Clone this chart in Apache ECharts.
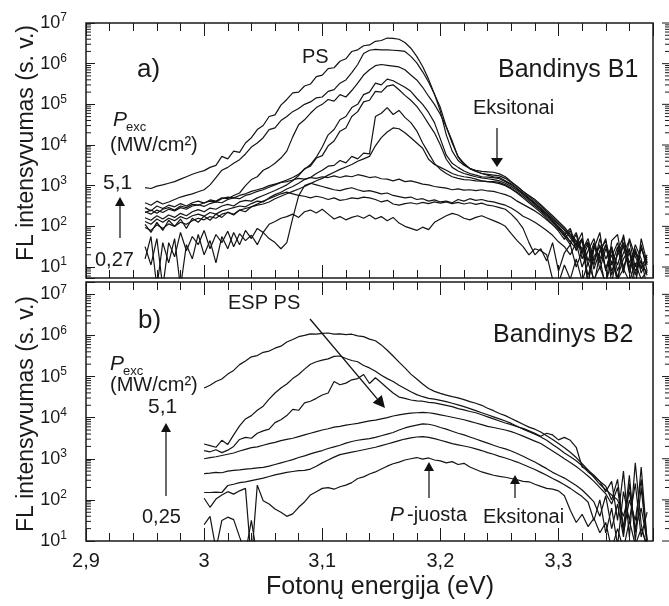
<!DOCTYPE html>
<html><head><meta charset="utf-8">
<script src="https://cdn.jsdelivr.net/npm/echarts@6/dist/echarts.min.js"></script>
<style>html,body{margin:0;padding:0;background:#fff}#c{width:669px;height:606px}</style>
</head><body><div id="c"></div>
<script>
// ---- sampling energies (eV) ----
const energyA = [2.95,2.955,2.96,2.965,2.97,2.975,2.98,2.985,2.99,2.995,3.0,3.005,3.01,3.015,3.02,3.025,3.03,3.035,3.04,3.045,3.05,3.055,3.06,3.065,3.07,3.075,3.08,3.085,3.09,3.095,3.1,3.105,3.11,3.115,3.12,3.125,3.13,3.135,3.14,3.145,3.15,3.155,3.16,3.165,3.17,3.175,3.18,3.185,3.19,3.195,3.2,3.205,3.21,3.215,3.22,3.225,3.23,3.235,3.24,3.245,3.25,3.255,3.26,3.265,3.27,3.275,3.28,3.285,3.29,3.295,3.3,3.305,3.31,3.315,3.32,3.325,3.33,3.335,3.34,3.345,3.35,3.355,3.36,3.365,3.37,3.375];
const energyB = [3.0,3.005,3.01,3.015,3.02,3.025,3.03,3.035,3.04,3.045,3.05,3.055,3.06,3.065,3.07,3.075,3.08,3.085,3.09,3.095,3.1,3.105,3.11,3.115,3.12,3.125,3.13,3.135,3.14,3.145,3.15,3.155,3.16,3.165,3.17,3.175,3.18,3.185,3.19,3.195,3.2,3.205,3.21,3.215,3.22,3.225,3.23,3.235,3.24,3.245,3.25,3.255,3.26,3.265,3.27,3.275,3.28,3.285,3.29,3.295,3.3,3.305,3.31,3.315,3.32,3.325,3.33,3.335,3.34,3.345,3.35,3.355,3.36,3.365,3.37,3.375];

// ---- panel a (Bandinys B1): log10 of FL intensity ----
const a1 = [2.95,2.93,2.99,3.02,3.06,3.10,3.16,3.22,3.28,3.33,3.37,3.45,3.50,3.72,3.66,3.85,3.82,4.05,4.18,4.38,4.48,4.70,4.74,4.98,5.12,5.28,5.30,5.45,5.50,5.68,5.72,5.88,5.90,6.06,6.12,6.30,6.34,6.44,6.46,6.55,6.57,6.63,6.62,6.60,6.52,6.38,6.18,5.93,5.62,5.25,4.83,4.25,3.85,3.62,3.50,3.42,3.38,3.35,3.34,3.33,3.29,3.22,3.10,2.98,2.86,2.76,2.66,2.53,2.40,2.26,2.12,1.98,1.80,1.65,1.45,1.62,0.55,1.35,1.70,0.60,1.40,1.75,1.00,0.50,1.55,0.90];
const a2 = [2.58,2.52,2.62,2.55,2.60,2.66,2.72,2.76,2.80,2.85,2.90,3.02,3.20,3.38,3.45,3.55,3.64,3.78,3.95,4.05,4.18,4.38,4.42,4.60,4.70,4.82,4.90,5.00,5.06,5.16,5.18,5.32,5.36,5.52,5.60,5.78,5.98,6.25,6.33,6.35,6.34,6.34,6.33,6.32,6.30,6.18,6.02,5.80,5.55,5.25,4.92,4.45,4.05,3.72,3.55,3.42,3.35,3.30,3.28,3.26,3.24,3.18,3.08,2.98,2.86,2.74,2.62,2.50,2.36,2.22,2.08,1.94,1.76,1.62,1.40,1.70,1.15,1.55,0.95,1.40,1.05,1.55,0.85,1.35,1.00,1.25];
const a3 = [2.46,2.38,2.50,2.44,2.52,2.48,2.56,2.50,2.58,2.62,2.57,2.65,2.62,2.70,2.68,2.76,2.82,3.00,3.15,3.22,3.38,3.45,3.55,3.68,3.85,4.20,4.50,4.62,4.78,4.92,5.00,5.12,5.08,5.24,5.18,5.34,5.52,5.72,5.85,5.95,5.98,5.96,5.94,5.92,5.85,5.72,5.60,5.42,5.20,5.00,4.75,4.45,4.10,3.70,3.52,3.42,3.36,3.30,3.26,3.22,3.20,3.12,3.04,2.93,2.82,2.70,2.58,2.45,2.32,2.18,2.05,1.90,1.72,1.55,1.85,0.60,1.55,1.20,0.50,1.65,1.80,0.95,1.45,0.55,1.70,1.10];
const a4 = [2.36,2.30,2.40,2.34,2.42,2.38,2.46,2.42,2.50,2.53,2.49,2.56,2.60,2.58,2.66,2.70,2.68,2.76,2.80,2.86,2.90,2.96,3.02,3.08,3.14,3.20,3.28,3.40,3.52,3.70,3.95,4.25,4.38,4.62,4.70,4.92,5.00,5.24,5.30,5.52,5.48,5.62,5.58,5.50,5.42,5.32,5.15,5.00,4.80,4.55,4.15,3.75,3.55,3.45,3.36,3.30,3.26,3.22,3.21,3.20,3.17,3.10,3.02,2.92,2.80,2.68,2.56,2.43,2.30,2.15,2.00,1.84,1.62,1.85,1.35,1.60,1.05,1.70,1.20,1.50,0.90,1.35,1.65,1.00,1.45,1.10];
const a5 = [2.21,2.15,2.26,2.18,2.28,2.22,2.32,2.26,2.36,2.41,2.36,2.45,2.42,2.50,2.54,2.50,2.60,2.64,2.62,2.70,2.76,2.82,2.88,2.95,3.02,3.12,3.25,3.42,3.48,3.68,3.74,3.98,4.10,4.34,4.42,4.70,4.82,5.06,5.10,5.32,5.30,5.45,5.48,5.36,5.22,5.10,4.95,4.75,4.52,4.30,4.00,3.65,3.45,3.36,3.30,3.26,3.22,3.19,3.17,3.15,3.12,3.06,2.98,2.88,2.78,2.66,2.54,2.40,2.28,2.12,1.98,1.80,1.95,1.50,1.70,0.55,1.45,1.85,0.90,1.50,0.55,1.80,0.95,1.55,1.20,0.50];
const a6 = [2.12,2.05,2.18,2.10,2.20,2.14,2.24,2.18,2.26,2.30,2.25,2.34,2.30,2.38,2.42,2.46,2.50,2.48,2.56,2.62,2.60,2.70,2.78,2.84,2.92,2.98,3.06,3.15,3.20,3.30,3.38,3.48,3.50,3.62,3.56,3.72,3.66,3.80,3.78,4.70,4.78,4.92,4.75,4.85,4.68,4.55,4.35,4.05,3.80,3.55,3.40,3.30,3.22,3.18,3.15,3.14,3.12,3.11,3.10,3.10,3.08,3.02,2.94,2.84,2.74,2.62,2.50,2.38,2.25,2.10,1.95,1.75,1.55,1.80,1.20,1.55,0.95,1.40,1.65,1.05,1.50,0.85,1.70,1.25,0.95,1.30];
const a7 = [1.97,1.90,2.04,1.95,2.06,2.00,2.10,2.05,2.14,2.20,2.16,2.24,2.20,2.30,2.34,2.30,2.40,2.44,2.48,2.52,2.55,2.60,2.68,2.74,2.80,2.86,2.92,2.98,3.05,3.12,3.18,3.26,3.33,3.40,3.46,3.52,3.60,3.66,3.72,3.98,4.18,4.32,4.42,4.40,4.30,4.18,4.05,3.92,3.65,3.52,3.45,3.38,3.30,3.25,3.22,3.20,3.16,3.12,3.10,3.08,3.05,3.00,2.92,2.82,2.70,2.58,2.46,2.34,2.20,2.05,1.88,1.68,1.90,1.40,1.65,1.05,1.50,1.20,1.55,0.80,1.35,1.60,1.10,1.45,0.85,1.20];
const a8 = [2.34,2.40,2.32,2.42,2.46,2.40,2.50,2.46,2.54,2.52,2.58,2.62,2.60,2.68,2.72,2.70,2.76,2.80,2.86,2.90,2.94,3.00,3.04,3.08,3.10,3.14,3.18,3.16,3.20,3.18,3.22,3.20,3.24,3.20,3.24,3.22,3.27,3.24,3.20,3.22,3.17,3.16,3.12,3.16,3.10,3.12,3.08,3.04,3.02,2.98,2.96,2.94,2.90,2.92,2.89,2.90,2.88,2.90,2.87,2.86,2.82,2.78,2.72,2.62,2.54,2.46,2.38,2.28,2.16,2.04,1.92,1.78,1.62,1.45,1.70,1.15,1.60,0.95,1.45,1.25,1.60,1.00,1.35,0.80,1.50,1.05];
const a9 = [1.50,1.05,1.70,0.50,1.60,1.25,1.85,1.40,1.75,1.55,1.90,1.45,1.80,1.60,1.88,1.50,1.82,1.65,1.78,1.55,1.85,1.70,1.60,1.45,1.60,2.20,2.75,3.00,3.06,3.02,2.98,2.94,2.90,2.88,2.92,2.95,2.90,2.86,2.88,2.84,2.80,2.82,2.76,2.73,2.70,2.72,2.66,2.68,2.62,2.65,2.60,2.62,2.58,2.66,2.62,2.68,2.64,2.66,2.62,2.60,2.56,2.52,2.45,2.36,2.25,2.18,2.10,2.00,1.90,1.78,1.62,1.50,1.30,1.60,1.00,1.40,1.70,1.10,1.55,0.90,1.30,1.50,0.95,1.40,1.10,0.85];
const a10 = [2.05,1.85,2.10,1.90,2.15,2.00,2.18,1.95,2.20,2.10,2.25,2.15,2.30,2.22,2.35,2.28,2.40,2.36,2.48,2.55,2.62,2.68,2.74,2.80,2.84,2.80,2.76,2.74,2.70,2.74,2.71,2.66,2.70,2.64,2.66,2.70,2.68,2.72,2.70,2.66,2.60,2.64,2.55,2.52,2.56,2.58,2.55,2.59,2.56,2.60,2.57,2.60,2.56,2.59,2.55,2.58,2.54,2.57,2.52,2.50,2.46,2.42,2.30,2.15,1.95,1.60,1.30,1.45,1.15,1.60,0.90,1.35,1.55,1.00,1.40,0.80,1.25,1.50,0.95,1.30,0.75,1.20,1.45,0.90,1.15,0.80];
const a11 = [1.20,1.75,0.50,1.60,1.10,1.70,0.50,1.55,1.20,1.80,1.30,1.65,1.10,1.75,1.45,1.85,1.55,1.90,1.70,1.95,1.85,2.05,2.12,2.20,2.24,2.30,2.22,2.36,2.40,2.33,2.42,2.30,2.18,2.24,2.16,2.22,2.26,2.20,2.28,2.18,2.24,2.14,2.22,2.08,2.00,1.95,1.90,1.98,1.92,2.10,2.18,2.26,2.32,2.28,2.20,2.16,2.22,2.26,2.20,2.14,2.08,2.00,1.82,1.65,1.50,1.30,1.45,1.40,1.30,0.70,0.60,1.05,0.70,1.20,0.65,1.10,0.70,1.00,0.60,1.15,0.70,0.95,0.65,1.10,0.70,0.90];

// ---- panel b (Bandinys B2): log10 of FL intensity ----
const b1 = [4.72,4.79,4.88,4.94,5.06,5.15,5.29,5.38,5.48,5.51,5.59,5.62,5.69,5.74,5.84,5.90,5.97,6.00,6.04,6.03,6.05,6.06,6.03,6.04,6.02,6.03,5.99,5.97,5.91,5.87,5.77,5.64,5.50,5.35,5.21,5.06,4.94,4.82,4.71,4.64,4.59,4.55,4.51,4.48,4.44,4.39,4.35,4.30,4.23,4.17,4.10,4.05,3.98,3.91,3.84,3.77,3.72,3.65,3.56,3.47,3.37,3.27,3.16,3.03,2.88,2.73,2.55,2.38,2.25,2.12,2.00,1.60,2.20,1.30,1.80,1.00];
const b2 = [3.36,3.32,3.28,3.45,3.35,3.58,3.80,3.97,4.05,4.18,4.28,4.45,4.60,4.72,4.82,4.95,5.05,5.18,5.30,5.36,5.40,5.43,5.49,5.50,5.44,5.39,5.36,5.27,5.21,5.13,5.03,4.95,4.88,4.79,4.71,4.63,4.56,4.51,4.47,4.45,4.42,4.39,4.35,4.31,4.27,4.22,4.17,4.12,4.07,4.02,3.97,3.92,3.86,3.79,3.72,3.66,3.60,3.53,3.45,3.35,3.25,3.14,3.05,2.95,2.83,2.68,2.57,2.45,2.33,2.00,2.50,1.30,2.60,1.00,2.30,0.90];
const b3 = [3.20,3.17,3.22,3.15,3.21,3.30,3.47,3.52,3.50,3.62,3.68,3.72,3.88,3.95,4.05,4.20,4.18,4.36,4.40,4.47,4.55,4.60,4.88,4.80,4.84,4.92,4.95,5.05,4.83,4.97,4.85,4.72,4.60,4.50,4.47,4.43,4.41,4.40,4.37,4.36,4.33,4.30,4.27,4.22,4.19,4.15,4.12,4.07,4.02,3.97,3.92,3.87,3.83,3.78,3.74,3.68,3.62,3.55,3.62,3.58,3.46,3.52,3.45,3.28,2.80,2.72,2.60,2.45,2.20,2.45,1.50,2.70,1.10,2.90,1.40,0.80];
const b4 = [3.00,3.03,3.05,3.08,3.11,3.14,3.19,3.23,3.27,3.29,3.33,3.37,3.40,3.44,3.47,3.50,3.54,3.58,3.62,3.66,3.70,3.73,3.77,3.79,3.82,3.84,3.86,3.89,3.92,3.94,3.97,4.00,4.04,4.07,4.09,4.11,4.12,4.13,4.12,4.10,4.07,4.04,4.01,3.98,3.95,3.91,3.87,3.83,3.79,3.76,3.73,3.70,3.66,3.61,3.55,3.49,3.43,3.37,3.28,3.19,3.10,3.00,2.91,2.81,2.70,2.58,2.45,2.30,2.15,1.90,2.30,1.20,2.00,1.50,2.50,1.00];
const b5 = [2.64,2.65,2.67,2.66,2.70,2.72,2.73,2.75,2.76,2.78,2.79,2.82,2.86,2.90,2.94,2.98,3.03,3.07,3.12,3.16,3.20,3.25,3.29,3.33,3.38,3.42,3.45,3.47,3.49,3.52,3.56,3.60,3.64,3.70,3.75,3.79,3.82,3.85,3.84,3.81,3.76,3.72,3.67,3.62,3.58,3.53,3.48,3.43,3.38,3.33,3.28,3.24,3.19,3.13,3.06,2.99,2.92,2.84,2.76,2.67,2.60,2.53,2.44,2.35,2.24,2.10,1.95,1.60,2.10,1.30,1.90,1.10,2.40,1.20,2.80,1.00];
const b6 = [2.18,2.18,2.19,2.18,2.35,2.38,2.42,2.44,2.47,2.50,2.53,2.57,2.61,2.64,2.67,2.69,2.71,2.72,2.75,2.82,2.90,2.97,3.04,3.10,3.13,3.16,3.19,3.22,3.25,3.28,3.32,3.36,3.40,3.44,3.48,3.51,3.53,3.54,3.52,3.49,3.45,3.41,3.37,3.34,3.31,3.28,3.24,3.20,3.15,3.11,3.06,3.02,2.97,2.92,2.86,2.80,2.74,2.67,2.60,2.52,2.45,2.37,2.28,2.18,2.08,1.95,1.50,2.00,1.20,1.80,0.90,2.20,1.50,2.40,1.10,1.70];
const b7 = [2.04,1.82,2.02,2.12,2.20,2.14,2.22,2.28,0.50,2.36,1.98,1.90,1.78,1.70,1.60,1.66,1.82,1.95,2.12,2.20,2.28,2.30,2.26,2.32,2.36,2.42,2.52,2.56,2.63,2.68,2.75,2.82,2.88,2.92,2.97,3.00,3.03,2.99,3.02,2.97,2.95,2.90,2.93,2.86,2.89,2.80,2.74,2.68,2.64,2.60,2.57,2.55,2.52,2.49,2.45,2.44,2.38,2.33,2.28,2.26,2.22,2.10,1.75,1.45,1.65,1.35,1.55,1.20,1.45,0.80,1.30,0.80,1.50,0.90,1.30,0.90];
const b8 = [1.40,1.60,0.80,1.50,1.58,1.52,1.10,0.70,1.50,0.60];

const seriesA = [a1,a2,a3,a4,a5,a6,a7,a8,a9,a10,a11];
const seriesB = [b1,b2,b3,b4,b5,b6,b7,b8];

// ---- axes / ticks ----
const xTickValues = [2.9, 3.0, 3.1, 3.2, 3.3];
const xTickLabels = ['2,9', '3', '3,1', '3,2', '3,3'];
const yDecadeExponents = [0, 1, 2, 3, 4, 5, 6, 7];
const yMinorMultipliers = [2, 3, 4, 5, 6, 7, 8, 9];
const X_MIN = 2.9, X_MAX = 3.38;
const YA_MIN = Math.pow(10, 0.73), YA_MAX = 1e7;
const YB_MIN = 10, YB_MAX = Math.pow(10, 7.3);

const FONT = '"Liberation Sans", Arial, Helvetica, sans-serif';
const INK = '#1a1a1a';

function xAxisDef(gridIndex, position, interval, tickLen, labels) {
  return {
    type: 'value', gridIndex, position, min: X_MIN, max: X_MAX, interval,
    axisLine: { show: false },
    axisTick: { show: true, inside: true, length: tickLen, lineStyle: { color: INK, width: 1 } },
    splitLine: { show: false },
    axisLabel: labels ? {
      show: true, margin: 10, color: INK, fontSize: 20, fontFamily: FONT,
      showMinLabel: true, showMaxLabel: true,
      formatter: function (v) {
        for (let k = 0; k < xTickValues.length; k++) if (Math.abs(v - xTickValues[k]) < 1e-6) return xTickLabels[k];
        return '';
      }
    } : { show: false }
  };
}
function yAxisDef(gridIndex, min, max) {
  return {
    type: 'log', logBase: 10, gridIndex, min, max, position: 'left',
    axisLine: { show: false },
    axisTick: { show: true, inside: true, length: 9, lineStyle: { color: INK, width: 1 } },
    splitLine: { show: false }, minorTick: { show: false },
    axisLabel: {
      show: true, margin: 19, showMinLabel: true, showMaxLabel: true,
      formatter: function (v) {
        const e = Math.log10(v); const r = Math.round(e);
        if (Math.abs(e - r) > 1e-6 || yDecadeExponents.indexOf(r) < 0) return '';
        return '{b|10}{s|' + r + '}';
      },
      rich: {
        b: { fontSize: 18, fontFamily: FONT, color: INK, lineHeight: 22 },
        s: { fontSize: 12, fontFamily: FONT, color: INK, verticalAlign: 'top', lineHeight: 12 }
      }
    }
  };
}

function tickSeries(xIdx, yIdx, yMin, yMax) {
  const data = [];
  yDecadeExponents.forEach(function (d) {
    yMinorMultipliers.forEach(function (m) {
      const v = m * Math.pow(10, d);
      if (v > yMin && v < yMax) data.push([X_MIN, v, 0]);
    });
    const mv = Math.pow(10, d);
    if (mv >= yMin * 0.9999 && mv <= yMax * 1.0001) data.push([X_MIN, mv, 1]);
  });
  return {
    type: 'custom', xAxisIndex: xIdx, yAxisIndex: yIdx, silent: true, clip: false, animation: false, z: 4,
    data,
    renderItem: function (params, api) {
      const v = api.value(1), major = api.value(2) === 1;
      const pL = api.coord([X_MIN, v]);
      const pR = api.coord([X_MAX, v]);
      const ch = [];
      if (!major) ch.push({ type: 'line', shape: { x1: pL[0], y1: pL[1], x2: pL[0] + 5, y2: pL[1] }, style: { stroke: INK, lineWidth: 1 } });
      ch.push({ type: 'line', shape: { x1: pR[0] + (major ? 9 : 12), y1: pR[1], x2: pR[0] + 18, y2: pR[1] }, style: { stroke: INK, lineWidth: 1 } });
      return { type: 'group', children: ch };
    }
  };
}

function lineSeries(xs, arr, xIdx, yIdx) {
  const data = [];
  for (let i = 0; i < arr.length; i++) data.push([xs[i], Math.pow(10, arr[i])]);
  return {
    type: 'line', xAxisIndex: xIdx, yAxisIndex: yIdx, data, showSymbol: false, symbol: 'none',
    smooth: false, clip: true, animation: false, silent: true, z: 3,
    lineStyle: { color: '#141414', width: 1.2 }
  };
}

// ---- annotations ----
function txt(x, y, s, size, opt) {
  opt = opt || {};
  return {
    type: 'text', x, y, z: 100, rotation: opt.rot || 0,
    style: {
      text: s, x: 0, y: 0, fill: opt.color || INK,
      font: (opt.italic ? 'italic ' : '') + size + 'px ' + FONT,
      textAlign: opt.align || 'left', textVerticalAlign: 'middle',
      align: opt.align || 'left', verticalAlign: 'middle'
    }
  };
}
function arrow(x1, y1, x2, y2, shaftColor, width, headLen, headHalf) {
  const dx = x2 - x1, dy = y2 - y1, L = Math.sqrt(dx * dx + dy * dy);
  const ux = dx / L, uy = dy / L, px = -uy, py = ux;
  const bx = x2 - ux * headLen, by = y2 - uy * headLen;
  return [
    { type: 'line', z: 100, shape: { x1, y1, x2: bx, y2: by }, style: { stroke: shaftColor, lineWidth: width } },
    { type: 'polygon', z: 100, shape: { points: [[x2, y2], [bx + px * headHalf, by + py * headHalf], [bx - px * headHalf, by - py * headHalf]] }, style: { fill: '#111' } }
  ];
}

const graphics = [].concat(
  [
    txt(27, 143, 'FL intensyvumas (s. v.)', 23, { align: 'center', rot: Math.PI / 2 }),
    txt(27, 414, 'FL intensyvumas (s. v.)', 23, { align: 'center', rot: Math.PI / 2 }),
    txt(380, 587, 'Fotonų energija (eV)', 25, { align: 'center' }),
    // panel a
    txt(137, 70, 'a)', 26),
    txt(302, 57, 'PS', 20),
    txt(498, 70, 'Bandinys B1', 25),
    txt(473, 108, 'Eksitonai', 20),
    txt(113, 120, 'P', 21, { italic: true }),
    txt(126, 127, 'exc', 13),
    txt(110, 145, '(MW/cm²)', 20),
    txt(103, 183, '5,1', 21),
    txt(95, 260, '0,27', 20),
    // panel b
    txt(138, 321, 'b)', 26),
    txt(228, 303, 'ESP PS', 20),
    txt(493, 335, 'Bandinys B2', 25),
    txt(110, 364, 'P', 21, { italic: true }),
    txt(123, 371, 'exc', 13),
    txt(110, 385, '(MW/cm²)', 20),
    txt(148, 407, '5,1', 21),
    txt(142, 517, '0,25', 20),
    txt(390, 515, 'P', 21, { italic: true }),
    txt(407, 515, '-juosta', 20),
    txt(483, 517, 'Eksitonai', 20)
  ],
  arrow(120, 238, 120, 197, '#6a6a6a', 2, 9, 5),
  arrow(497, 128, 497, 167, '#6a6a6a', 2, 9, 6),
  arrow(166, 496, 166, 423, '#6a6a6a', 2, 9, 5),
  arrow(310, 319, 385, 408, '#111', 1.3, 12, 6),
  arrow(429, 498, 429, 462, '#6a6a6a', 2, 9, 5),
  arrow(515, 498, 515, 475, '#6a6a6a', 2, 9, 5)
);

const chart = echarts.init(document.getElementById('c'), null, { renderer: 'canvas', width: 669, height: 606 });
const series = [];
seriesA.forEach(function (arr) { series.push(lineSeries(energyA, arr, 0, 0)); });
seriesB.forEach(function (arr) { series.push(lineSeries(energyB, arr, 4, 1)); });
series.push(tickSeries(0, 0, YA_MIN, YA_MAX));
series.push(tickSeries(4, 1, YB_MIN, YB_MAX));

chart.setOption({
  animation: false,
  backgroundColor: '#ffffff',
  grid: [
    { left: 86, top: 23, width: 567, height: 255, show: true, borderColor: INK, borderWidth: 1.5, backgroundColor: 'transparent' },
    { left: 86, top: 282, width: 567, height: 259, show: true, borderColor: INK, borderWidth: 1.5, backgroundColor: 'transparent' }
  ],
  xAxis: [
    xAxisDef(0, 'bottom', 0.1, 13, false),
    xAxisDef(0, 'bottom', 0.02, 8, false),
    xAxisDef(0, 'top', 0.1, 13, false),
    xAxisDef(0, 'top', 0.02, 8, false),
    xAxisDef(1, 'bottom', 0.1, 13, true),
    xAxisDef(1, 'bottom', 0.02, 8, false),
    xAxisDef(1, 'top', 0.1, 13, false),
    xAxisDef(1, 'top', 0.02, 8, false)
  ],
  yAxis: [yAxisDef(0, YA_MIN, YA_MAX), yAxisDef(1, YB_MIN, YB_MAX)],
  series,
  graphic: { elements: graphics }
});
</script></body></html>
